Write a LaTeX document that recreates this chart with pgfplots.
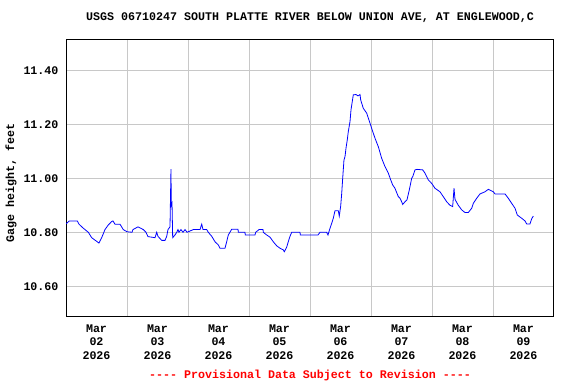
\documentclass[border=0pt]{standalone}
\usepackage{fontspec}
\setmonofont{Liberation Mono}
\usepackage{pgfplots}
\pgfplotsset{compat=1.18}
\definecolor{gridgray}{RGB}{200,200,200}
\definecolor{usgsblue}{RGB}{0,0,255}
\definecolor{usgsred}{RGB}{255,0,0}
\newcommand{\lbl}{\fontsize{11.7}{13.6}\selectfont\ttfamily\bfseries}
\begin{document}
\begin{tikzpicture}
\path[use as bounding box] (0,0) rectangle (576bp,384bp);
\begin{axis}[
  at={(66bp,68bp)}, anchor=south west,
  scale only axis, width=488bp, height=276bp,
  xmin=0, xmax=8, ymin=10.49, ymax=11.512,
  axis line style={black, line width=1pt},
  xtick={0.5,1.5,2.5,3.5,4.5,5.5,6.5,7.5},
  xticklabels={{Mar\\02\\2026},{Mar\\03\\2026},{Mar\\04\\2026},{Mar\\05\\2026},{Mar\\06\\2026},{Mar\\07\\2026},{Mar\\08\\2026},{Mar\\09\\2026}},
  minor xtick={1,2,3,4,5,6,7},
  xminorgrids=true, xmajorgrids=false,
  major tick length=0pt, minor tick length=0pt,
  ytick={10.6,10.8,11.0,11.2,11.4},
  ymajorgrids=true,
  grid style={gridgray, line width=0.8pt},
  minor grid style={gridgray, line width=0.8pt},
  /pgf/number format/assume math mode=true,
  yticklabel={\pgfmathprintnumber[fixed,fixed zerofill,precision=2]{\tick}},
  yticklabel style={font=\lbl, xshift=-4bp},
  xticklabel style={font=\lbl, align=center, yshift=-5bp},
  tick align=outside,
  clip=true,
]
\addplot[usgsblue, line width=0.8pt] coordinates {
(0.000,10.831) (0.054,10.842) (0.185,10.842) (0.213,10.830) (0.284,10.815) (0.366,10.800)
(0.421,10.780) (0.475,10.771) (0.541,10.760) (0.557,10.768) (0.585,10.780) (0.639,10.810)
(0.693,10.827) (0.749,10.840) (0.770,10.842) (0.803,10.830) (0.885,10.830) (0.939,10.810)
(1.000,10.802) (1.082,10.800) (1.098,10.810) (1.180,10.820) (1.267,10.810) (1.311,10.800)
(1.344,10.784) (1.459,10.780) (1.487,10.800) (1.508,10.785) (1.569,10.770) (1.623,10.770)
(1.651,10.785) (1.672,10.810) (1.705,10.820) (1.721,11.034) (1.726,10.900) (1.738,10.908)
(1.749,10.780) (1.787,10.790) (1.815,10.800) (1.836,10.810) (1.852,10.800) (1.885,10.810)
(1.918,10.800) (1.951,10.810) (1.984,10.800) (2.087,10.810) (2.197,10.810) (2.225,10.830)
(2.246,10.810) (2.307,10.810) (2.333,10.800) (2.389,10.785) (2.443,10.765) (2.497,10.753)
(2.525,10.741) (2.607,10.741) (2.634,10.765) (2.661,10.790) (2.716,10.811) (2.820,10.811)
(2.825,10.800) (2.934,10.800) (2.939,10.790) (3.098,10.790) (3.110,10.800) (3.164,10.810)
(3.230,10.810) (3.234,10.800) (3.290,10.790) (3.344,10.782) (3.398,10.765) (3.454,10.750)
(3.508,10.741) (3.562,10.735) (3.579,10.728) (3.618,10.745) (3.644,10.765) (3.672,10.785)
(3.700,10.800) (3.836,10.800) (3.841,10.790) (4.131,10.790) (4.164,10.800) (4.274,10.800)
(4.295,10.790) (4.328,10.815) (4.356,10.833) (4.382,10.852) (4.410,10.880) (4.464,10.880)
(4.480,10.860) (4.503,10.897) (4.520,10.944) (4.536,11.000) (4.557,11.068) (4.574,11.080)
(4.590,11.111) (4.611,11.142) (4.628,11.173) (4.656,11.210) (4.672,11.253) (4.693,11.284)
(4.710,11.309) (4.754,11.310) (4.787,11.305) (4.820,11.310) (4.831,11.290) (4.874,11.259)
(4.930,11.241) (4.984,11.204) (5.011,11.185) (5.066,11.148) (5.120,11.117) (5.175,11.074)
(5.230,11.043) (5.284,11.019) (5.323,10.994) (5.356,10.975) (5.393,10.963) (5.448,10.932)
(5.475,10.926) (5.503,10.913) (5.520,10.903) (5.557,10.913) (5.590,10.920) (5.628,10.957)
(5.639,10.969) (5.667,11.000) (5.684,11.006) (5.721,11.031) (5.754,11.033) (5.848,11.031)
(5.885,11.019) (5.939,10.994) (5.995,10.981) (6.049,10.963) (6.131,10.950) (6.185,10.932)
(6.241,10.913) (6.295,10.900) (6.339,10.895) (6.361,10.963) (6.377,10.922) (6.431,10.900)
(6.487,10.883) (6.541,10.873) (6.595,10.873) (6.651,10.889) (6.677,10.907) (6.733,10.926)
(6.787,10.942) (6.869,10.950) (6.923,10.959) (7.005,10.950) (7.033,10.942) (7.197,10.942)
(7.251,10.926) (7.307,10.907) (7.361,10.889) (7.398,10.864) (7.470,10.852) (7.525,10.842)
(7.552,10.831) (7.607,10.831) (7.634,10.850) (7.661,10.860)
};
\end{axis}
\node[font=\lbl] at (310bp,366bp) {USGS 06710247 SOUTH PLATTE RIVER BELOW UNION AVE, AT ENGLEWOOD,C};
\node[font=\lbl, rotate=90] at (11bp,201bp) {Gage height, feet};
\node[font=\lbl, text=usgsred] at (310bp,9bp) {---- Provisional Data Subject to Revision ----};
\end{tikzpicture}
\end{document}
